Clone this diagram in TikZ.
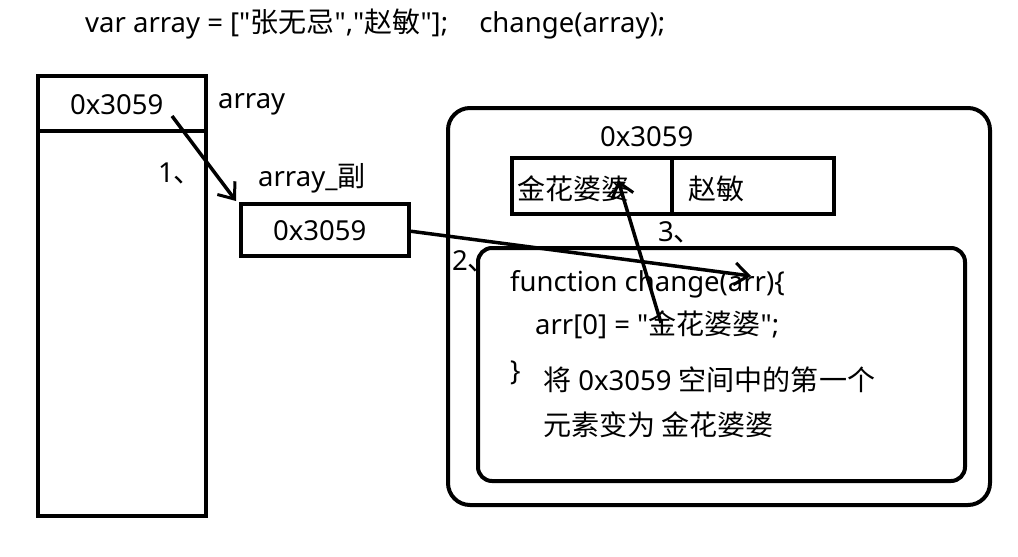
\documentclass[tikz,border=0pt]{standalone}
\usepackage{fontspec}
\setmainfont{Noto Sans}[Ligatures=TeXOff]
\newfontfamily\cjk{Noto Sans CJK SC}[Scale=1.02,Ligatures=TeXOff]
\usetikzlibrary{arrows.meta}
\begin{document}
\begin{tikzpicture}[x=1pt,y=-1pt,
  box/.style={draw,line width=4pt},
  txt/.style={inner sep=0pt,anchor=base west,font=\fontsize{27.5}{32}\selectfont},
  arr/.style={line width=3.5pt,-{Straight Barb[length=14pt,width=22pt,line width=3pt]}}]
\useasboundingbox (0,0) rectangle (1018,557);
\fill[white] (0,0) rectangle (1018,557);
\node[txt] (top) at (85,32) {var array = ["{\cjk 张无忌}","{\cjk 赵敏}"];\hspace{24pt} change(array);};
% left stack
\draw[box] (38,76) rectangle (206,516);
\draw[box] (38,131) -- (206,131);
\node[txt] (a1) at (70,114) {0x3059};
\node[txt] (alab) at (218,108) {array};
\node[txt] (n1) at (158,182) {1{\cjk 、}};
\coordinate (s1) at (172,116);
\coordinate (e1) at (236,201);
\draw[arr] (s1) -- (e1);
\node[txt] (alab2) at (258,186) {array\_{\cjk 副}};
\draw[box] (241,204) rectangle (409,256);
\node[txt] (a2) at (273,240) {0x3059};
% outer
\draw[box,rounded corners=22pt] (448,108) rectangle (990,505);
\node[txt] (a3) at (600,146) {0x3059};
\draw[box] (512,158) rectangle (834,214);
\draw[box] (672,158) -- (672,214);
\node[txt] (c1) at (517,199) {\cjk 金花婆婆};
\node[txt] (c2) at (688,199) {\cjk 赵敏};
\node[txt] (n3) at (658,241) {3{\cjk 、}};
% inner
\draw[box,rounded corners=14pt] (478,248) rectangle (965,481);
\node[txt] (f1) at (510,291) {function change(arr)\{};
\node[txt] (f2) at (535,334) {arr[0] = "{\cjk 金花婆婆}";};
\node[txt] (f3) at (510,380) {\}};
\node[txt] (f4) at (543,390) {{\cjk 将} 0x3059 {\cjk 空间中的第一个}};
\node[txt] (f5) at (543,435) {\cjk 元素变为 金花婆婆};
\node[txt] (n2) at (452,270) {2{\cjk 、}};
% arrows 2 and 3
\coordinate (s2) at (409,231);
\coordinate (e2) at (751,276);
\draw[arr] (s2) -- (e2);
\coordinate (s3) at (661,323);
\coordinate (e3) at (618,180);
\draw[arr] (s3) -- (e3);
\end{tikzpicture}
\end{document}
